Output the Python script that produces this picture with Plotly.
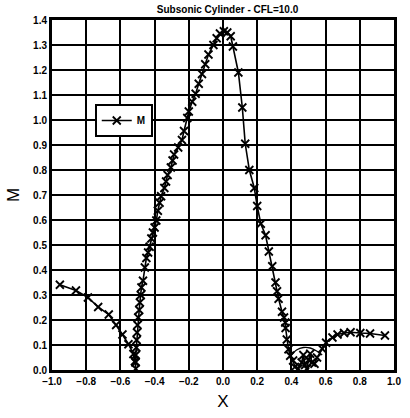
import plotly.graph_objects as go

# Left descending branch
x_left = [-0.954, -0.86, -0.79, -0.73, -0.668, -0.625, -0.588, -0.553, -0.524, -0.515, -0.51]
y_left = [0.341, 0.318, 0.29, 0.252, 0.222, 0.18, 0.142, 0.103, 0.064, 0.035, 0.005]

# Rising branch up to the peak
x_rise = [-0.512, -0.51, -0.507, -0.505, -0.503, -0.5, -0.496, -0.49, -0.486, -0.481, -0.477,
          -0.468, -0.457, -0.448, -0.438, -0.429, -0.419, -0.41, -0.40, -0.39, -0.381, -0.371,
          -0.362, -0.343, -0.333, -0.324, -0.305, -0.295, -0.286, -0.262, -0.24, -0.228,
          -0.209, -0.2, -0.18, -0.16, -0.142, -0.123, -0.104, -0.085, -0.056, -0.037, -0.018,
          0.005, 0.025, 0.045]
y_rise = [0.03, 0.06, 0.09, 0.12, 0.15, 0.18, 0.21, 0.24, 0.27, 0.30, 0.33,
          0.357, 0.41, 0.448, 0.47, 0.493, 0.526, 0.55, 0.57, 0.598, 0.637, 0.669,
          0.695, 0.728, 0.754, 0.78, 0.81, 0.838, 0.862, 0.89, 0.92, 0.956,
          1.008, 1.034, 1.073, 1.105, 1.145, 1.184, 1.223, 1.262, 1.30, 1.327, 1.346,
          1.355, 1.35, 1.335]

# Descending branch on the right
x_desc = [0.058, 0.09, 0.113, 0.13, 0.154, 0.183, 0.20, 0.221, 0.249, 0.268, 0.288, 0.307,
          0.316, 0.325, 0.345, 0.357, 0.364, 0.366, 0.373, 0.383, 0.393, 0.41]
y_desc = [1.294, 1.19, 1.05, 0.905, 0.80, 0.728, 0.656, 0.585, 0.539, 0.474, 0.415, 0.35,
          0.315, 0.285, 0.233, 0.21, 0.19, 0.168, 0.122, 0.083, 0.057, 0.038]

# Loop near the stagnation point and the wake tail
x_tail = [0.42, 0.44, 0.46, 0.47, 0.48, 0.49, 0.50, 0.51, 0.52, 0.535, 0.55, 0.58,
          0.603, 0.64, 0.67, 0.708, 0.746, 0.803, 0.86, 0.947]
y_tail = [0.012, 0.005, 0.03, 0.06, 0.02, 0.005, 0.04, 0.065, 0.03, 0.025, 0.05, 0.085,
          0.109, 0.13, 0.142, 0.148, 0.151, 0.148, 0.146, 0.138]

# Small arc above the loop
x_arc = [0.40, 0.43, 0.47, 0.51, 0.55, 0.58]
y_arc = [0.06, 0.08, 0.09, 0.088, 0.075, 0.06]

x_all = x_left + x_rise + x_desc + x_tail
y_all = y_left + y_rise + y_desc + y_tail

fig = go.Figure()
fig.add_trace(go.Scatter(
    x=x_all, y=y_all, mode="lines+markers", name="M",
    line=dict(color="black", width=1.6),
    marker=dict(symbol="x-thin-open", size=8, line=dict(color="black", width=1.8)),
))
fig.add_trace(go.Scatter(
    x=x_arc, y=y_arc, mode="lines", showlegend=False,
    line=dict(color="black", width=1.4, shape="spline"),
))

tickfont = dict(family="Liberation Sans", size=10, color="black", weight="bold")

fig.update_layout(
    width=410, height=418,
    margin=dict(l=52, r=9, t=20, b=40),
    paper_bgcolor="white", plot_bgcolor="white",
    title=dict(text="Subsonic Cylinder - CFL=10.0", x=0.555, xanchor="center",
               y=0.985, yanchor="top",
               font=dict(family="Liberation Sans", size=10, color="black", weight="bold")),
    showlegend=True,
    legend=dict(x=0.125, y=0.76, xanchor="left", yanchor="top",
                bgcolor="white", bordercolor="black", borderwidth=2,
                font=dict(family="Liberation Sans", size=10, color="black", weight="bold"),
                itemwidth=30, tracegroupgap=0),
    xaxis=dict(range=[-1.0, 1.0], dtick=0.2, tick0=-1.0, tickformat=".1f",
               showgrid=True, gridcolor="black", gridwidth=2,
               showline=True, linecolor="black", linewidth=3, mirror=True,
               zeroline=False, ticks="", tickfont=tickfont,
               title=dict(text="X", font=dict(family="Liberation Sans", size=17, color="black"),
                          standoff=10)),
    yaxis=dict(range=[0.0, 1.4], dtick=0.1, tick0=0.0, tickformat=".1f",
               showgrid=True, gridcolor="black", gridwidth=2,
               showline=True, linecolor="black", linewidth=3, mirror=True,
               zeroline=False, ticks="", tickfont=tickfont,
               title=dict(text="M", font=dict(family="Liberation Sans", size=17, color="black"),
                          standoff=10)),
)

fig.write_html("out.html")
